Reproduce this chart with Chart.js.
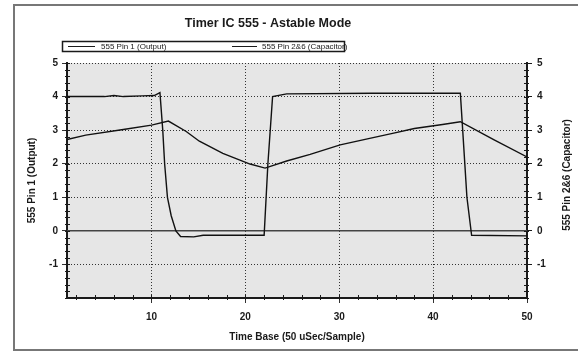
<!DOCTYPE html>
<html>
<head>
<meta charset="utf-8">
<script src="https://cdn.jsdelivr.net/npm/chart.js@4"></script>
<style>
html,body{margin:0;padding:0;background:#fff;}
#wrap{width:578px;height:352px;position:relative;}
</style>
</head>
<body>
<div id="wrap"><canvas id="c" width="578" height="352"></canvas></div>
<script>
const chartTitle = "Timer IC 555 - Astable Mode";
const seriesNames = ["555 Pin 1 (Output)", "555 Pin 2&6 (Capacitor)"];
const xAxisTitle = "Time Base (50 uSec/Sample)";
const yLeftTitle = "555 Pin 1 (Output)";
const yRightTitle = "555 Pin 2&6 (Capacitor)";

const xTicks = [10, 20, 30, 40, 50];
const yTicks = [-1, 0, 1, 2, 3, 4, 5];

const outX = [1, 3, 5, 6, 7, 9, 10.3, 10.9, 11.2, 11.4, 11.7, 12.1, 12.6, 13.1, 14.5, 15.5, 22.0, 22.4, 22.9, 24.4, 33.5, 42.9, 43.15, 43.6, 44.1, 50];
const outY = [4.0, 4.0, 4.0, 4.03, 4.0, 4.02, 4.03, 4.12, 3.0, 2.0, 1.0, 0.45, 0.0, -0.17, -0.18, -0.13, -0.13, 2.0, 4.0, 4.08, 4.1, 4.1, 3.0, 1.0, -0.13, -0.15];

const capX = [1, 3, 7, 10, 11.8, 13.7, 15.1, 17.6, 20.5, 22.1, 24.4, 26.9, 30.1, 33, 35.8, 38, 41, 42.9, 46.5, 50];
const capY = [2.72, 2.85, 3.02, 3.15, 3.27, 2.96, 2.67, 2.31, 1.99, 1.87, 2.08, 2.28, 2.56, 2.74, 2.91, 3.05, 3.17, 3.25, 2.71, 2.2];

const toPts = (xs, ys) => xs.map((x, i) => ({x: x, y: ys[i]}));

const FONT = "'Liberation Sans', Arial, sans-serif";
const NARROW = "'Liberation Sans Narrow', 'Arial Narrow', 'Liberation Sans', sans-serif";
const INK = '#1a1a1a';

const decor = {
  id: 'decor',
  beforeDraw(chart) {
    const {ctx, chartArea: a} = chart;
    ctx.save();
    ctx.fillStyle = '#e6e6e6';
    ctx.fillRect(a.left, a.top, a.right - a.left, a.bottom - a.top);
    ctx.restore();
  },
  beforeDatasetsDraw(chart) {
    const {ctx, chartArea: a, scales} = chart;
    const ys = scales.y, xs = scales.x;
    ctx.save();
    const y0 = ys.getPixelForValue(0);
    ctx.strokeStyle = '#444';
    ctx.lineWidth = 1.5;
    ctx.beginPath(); ctx.moveTo(a.left, y0); ctx.lineTo(a.right, y0); ctx.stroke();
    ctx.strokeStyle = INK;
    ctx.lineWidth = 1;
    for (let v = -2; v <= 5.001; v += 0.2) {
      const p = Math.round(ys.getPixelForValue(v)) + 0.5;
      ctx.beginPath(); ctx.moveTo(a.left - 2, p); ctx.lineTo(a.left + 3, p); ctx.stroke();
      ctx.beginPath(); ctx.moveTo(a.right - 3, p); ctx.lineTo(a.right + 2, p); ctx.stroke();
    }
    for (let v = 2; v <= 50; v += 2) {
      const p = Math.round(xs.getPixelForValue(v)) + 0.5;
      ctx.beginPath(); ctx.moveTo(p, a.bottom - 3); ctx.lineTo(p, a.bottom + 2); ctx.stroke();
    }
    ctx.restore();
  },
  afterDraw(chart) {
    const {ctx, chartArea: a} = chart;
    ctx.save();
    ctx.strokeStyle = '#777';
    ctx.lineWidth = 2;
    ctx.beginPath();
    ctx.moveTo(580, 5); ctx.lineTo(14, 5); ctx.lineTo(14, 350); ctx.lineTo(580, 350);
    ctx.stroke();
    ctx.fillStyle = INK;
    ctx.font = 'bold 12.5px ' + FONT;
    ctx.textAlign = 'center';
    ctx.textBaseline = 'middle';
    ctx.fillText(chartTitle, 268, 24);
    ctx.strokeStyle = INK;
    ctx.lineWidth = 1.5;
    ctx.strokeRect(62.5, 41.5, 282, 10);
    ctx.lineWidth = 1;
    ctx.beginPath(); ctx.moveTo(68, 46.5); ctx.lineTo(95, 46.5); ctx.stroke();
    ctx.beginPath(); ctx.moveTo(232, 46.5); ctx.lineTo(257, 46.5); ctx.stroke();
    ctx.font = '8px ' + NARROW;
    ctx.textAlign = 'left';
    ctx.fillText(seriesNames[0], 101, 47);
    ctx.fillText(seriesNames[1], 262, 47);
    ctx.font = 'bold 10px ' + FONT;
    ctx.textAlign = 'center';
    ctx.fillText(xAxisTitle, 297, 337);
    ctx.save();
    ctx.translate(32, (a.top + a.bottom) / 2);
    ctx.rotate(-Math.PI / 2);
    ctx.fillText(yLeftTitle, 0, 0);
    ctx.restore();
    ctx.save();
    ctx.translate(567, 175);
    ctx.rotate(-Math.PI / 2);
    ctx.fillText(yRightTitle, 0, 0);
    ctx.restore();
    ctx.restore();
  }
};

const tickFont = {family: FONT, size: 10, weight: 'bold'};

new Chart(document.getElementById('c'), {
  type: 'line',
  data: {
    datasets: [
      {label: seriesNames[0], data: toPts(outX, outY), borderColor: '#111', borderWidth: 1.4, pointRadius: 0, tension: 0, yAxisID: 'y'},
      {label: seriesNames[1], data: toPts(capX, capY), borderColor: '#111', borderWidth: 1.4, pointRadius: 0, tension: 0, yAxisID: 'y'}
    ]
  },
  options: {
    responsive: false,
    animation: false,
    layout: {padding: {top: 63, left: 0, right: 0, bottom: 0}},
    plugins: {legend: {display: false}, title: {display: false}, tooltip: {enabled: false}},
    scales: {
      x: {
        type: 'linear', min: 1, max: 50,
        afterBuildTicks: s => { s.ticks = xTicks.map(v => ({value: v})); },
        afterFit: s => { s.height = 54; },
        ticks: {font: tickFont, color: INK, padding: 8, maxRotation: 0},
        grid: {color: '#333', lineWidth: 1, tickLength: 5, tickBorderDash: []},
        border: {display: true, color: INK, width: 2, dash: [1, 2]}
      },
      y: {
        position: 'left', min: -2, max: 5,
        afterBuildTicks: s => { s.ticks = yTicks.map(v => ({value: v})); },
        afterFit: s => { s.width = 67; },
        ticks: {font: tickFont, color: INK, padding: 4},
        grid: {color: '#333', lineWidth: 1, tickLength: 5, tickBorderDash: []},
        border: {display: true, color: INK, width: 2, dash: [1, 2]}
      },
      y2: {
        position: 'right', min: -2, max: 5,
        afterBuildTicks: s => { s.ticks = yTicks.map(v => ({value: v})); },
        afterFit: s => { s.width = 51; },
        ticks: {font: tickFont, color: INK, padding: 5},
        grid: {drawOnChartArea: false, color: INK, tickLength: 5},
        border: {display: true, color: INK, width: 2}
      }
    }
  },
  plugins: [decor]
});
</script>
</body>
</html>
